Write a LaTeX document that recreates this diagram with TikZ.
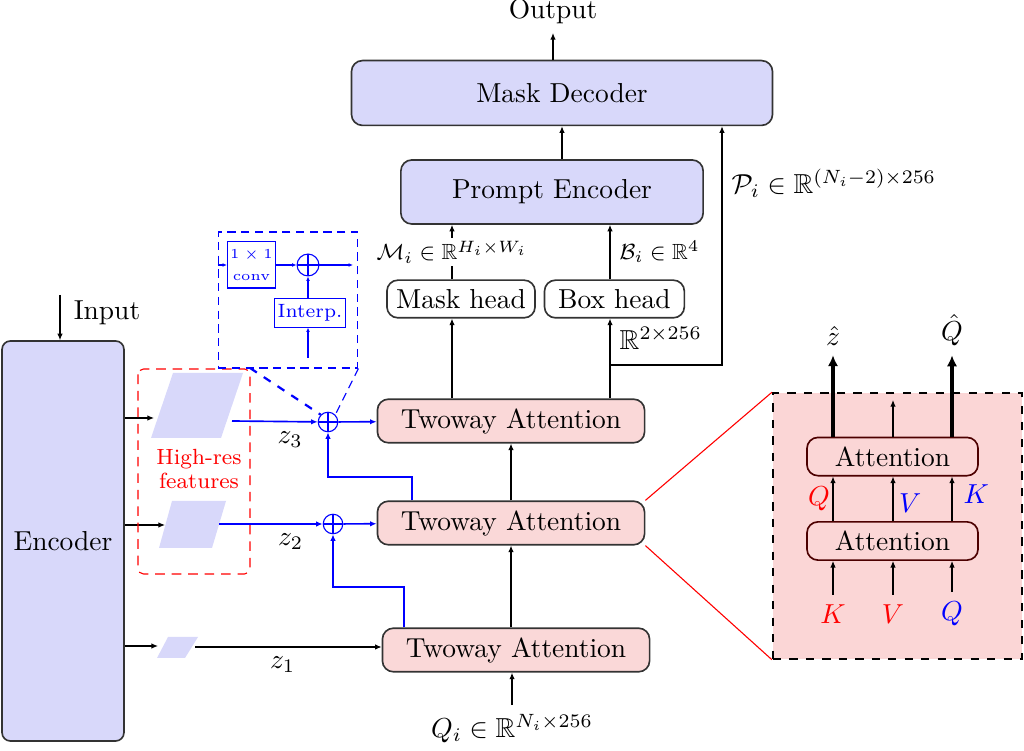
\documentclass[tikz,border=0pt]{standalone}
\usepackage{amsmath,amssymb}
\usetikzlibrary{positioning,arrows.meta}
\definecolor{lav}{RGB}{216,216,250}
\definecolor{pinkfill}{RGB}{250,216,216}
\definecolor{zoomfill}{RGB}{251,214,214}

\begin{document}
\begin{tikzpicture}[x=0.0128cm, y=-0.0128cm,
    >={Latex[length=2.4pt,width=2pt]},
    blk/.style={draw=black!80, semithick, rounded corners=4pt, fill=lav},
    twa/.style={draw=black!80, semithick, rounded corners=4pt, fill=pinkfill,
      minimum width=3.42cm, minimum height=0.47cm},
    head/.style={draw=black!80, semithick, rounded corners=4pt, minimum height=0.47cm},
    sum/.style={draw=blue, circle, minimum size=0.25cm, inner sep=0pt,
      path picture={\draw[blue] (path picture bounding box.north) -- (path picture bounding box.south)
        (path picture bounding box.west) -- (path picture bounding box.east);}},
    bl/.style={blue, semithick},
    tinyarr/.style={blue, -{Latex[length=1.6pt,width=1.4pt]}},
    bigarr/.style={line width=1.2pt, -{Latex[length=4pt,width=3.8pt]}},
  ]
  \useasboundingbox (0,0) rectangle (1024,751);

  \node[blk, minimum width=5.39cm, minimum height=0.83cm] (md) at (562,93) {Mask Decoder};
  \node (out) at (553,11) {Output};
  \node[blk, minimum width=3.87cm, minimum height=0.82cm] (pe) at (552,192) {Prompt Encoder};
  \node[head, minimum width=1.88cm] (mh) at (461,299) {Mask head};
  \node[head, minimum width=1.79cm, right=0.1cm of mh] (bh) {Box head};
  \node[twa] (ta3) at (511,421) {Twoway Attention};
  \node[twa] (ta2) at (511,523) {Twoway Attention};
  \node[twa] (ta1) at (516,650) {Twoway Attention};
  \node (q) at (512,729) {$Q_i \in \mathbb{R}^{N_i\times 256}$};
  \node[blk, rounded corners=3pt, minimum width=1.56cm, minimum height=5.12cm] (enc) at (63,541) {Encoder};
  \node (in) at (107,313) {Input};

  \coordinate (c1) at (452,0);
  \coordinate (c2) at (610,0);
  \coordinate (br) at (610,365);
  \coordinate (cr) at (722,365);
  \coordinate (inp) at (60,295);

  \draw[->] (md.north -| out) -- (out);
  \draw[->] (pe.north -| md) -- (md.south);
  \draw[->] (mh.north -| c1) -- node[fill=white, font=\footnotesize, inner sep=1pt]
    {$\mathcal{M}_i \in \mathbb{R}^{H_i\times W_i}$} (pe.south -| c1);
  \draw[->] (bh.north -| c2) -- node[right, font=\footnotesize] {$\mathcal{B}_i \in \mathbb{R}^4$} (pe.south -| c2);
  \draw[->] (ta3.north -| c1) -- (mh.south -| c1);
  \draw[->] (ta3.north -| c2) -- node[right, pos=0.75] {$\mathbb{R}^{2\times 256}$} (bh.south -| c2);
  \draw[->] (br) -- (cr) -- node[right, pos=0.76] {$\mathcal{P}_i \in \mathbb{R}^{(N_i-2)\times 256}$} (md.south -| cr);
  \draw[->] (ta2.north) -- (ta3.south);
  \draw[->] (ta1.north -| ta2) -- (ta2.south);
  \draw[->, thick] (q.north) -- (q.north |- ta1.south);
  \draw[->] (inp) -- (inp |- enc.north);

  % features
  \fill[lav] (151,438) -- (221,438) -- (243,373) -- (173,373) -- cycle;
  \fill[lav] (159,548) -- (212,548) -- (226,501) -- (172,501) -- cycle;
  \fill[lav] (157,658) -- (185,658) -- (198,637) -- (168,637) -- cycle;
  \coordinate (e3) at (154,418);
  \coordinate (e2) at (165,525);
  \coordinate (e1) at (158,646);
  \coordinate (f3) at (232,421);
  \coordinate (f2) at (219,524);
  \coordinate (f1) at (195,647);
  \draw[->] (enc.east |- e3) -- (e3);
  \draw[->] (enc.east |- e2) -- (e2);
  \draw[->] (enc.east |- e1) -- (e1);

  \draw[red, dash pattern=on 3.5pt off 2.5pt, rounded corners=2pt] (138,369) rectangle (250,574);
  \node[red, font=\footnotesize, align=center, inner sep=0pt] (hr) at (199,469) {High-res\\[-1pt]features};

  \node[sum] (s3) at (328,422) {};
  \node[sum] (s2) at (333,524) {};
  \draw[->, bl] (f3) -- node[below, pos=0.68, black] {$z_3$} (s3);
  \draw[->, bl] (f2) -- node[below, pos=0.69, black] {$z_2$} (s2);
  \draw[->] (f1) -- node[below, pos=0.47] {$z_1$} (f1 -| ta1.west);
  \draw[->, bl] (s3) -- (ta3);
  \draw[->, bl] (s2) -- (ta2);
  \coordinate (k2) at (412,477);
  \coordinate (k1) at (404,587);
  \draw[->, bl] (ta2.north -| k2) -- (k2) -| (s3.south);
  \draw[->, bl] (ta1.north -| k1) -- (k1) -| (s2.south);

  % zoomed fusion block
  \node[draw=blue, densely dashed, minimum width=1.79cm, minimum height=1.74cm] (zb) at (288,300) {};
  \node[draw=blue, text=blue, font=\tiny, align=center, inner sep=1pt,
    minimum width=0.47cm, minimum height=0.59cm] (conv) at (251.5,265) {$1\times1$\\[2pt]conv};
  \node[sum, minimum size=0.28cm] (s0) at (308,265) {};
  \node[draw=blue, text=blue, font=\scriptsize, inner sep=1pt,
    minimum width=0.84cm, minimum height=0.36cm] (ip) at (310,313) {Interp.};
  \coordinate (zl) at (250,368);
  \coordinate (so) at (353,265);
  \coordinate (si) at (308,358);
  \draw[tinyarr] (zb.west |- conv) -- (conv);
  \draw[tinyarr] (conv) -- (s0);
  \draw[tinyarr] (s0) -- (so);
  \draw[tinyarr] (ip.north -| s0) -- (s0);
  \draw[tinyarr] (si) -- (ip.south -| s0);
  \draw[blue, thick, dashed] (zl) -- (s3.north west);
  \draw[blue, densely dashed] (zb.south east) -- (s3.north east);

  % inside twoway attention
  \node[draw, dashed, line width=0.7pt, fill=zoomfill, minimum width=3.19cm, minimum height=3.40cm] (zoom) at (897.5,526) {};
  \draw[red] (ta2.north east) -- (zoom.north west);
  \draw[red] (ta2.south east) -- (zoom.south west);
  \node[head, draw=black!70!red, minimum width=2.19cm] (at1) at (892.5,541) {Attention};
  \node[head, draw=black!70!red, minimum width=2.19cm, above=0.57cm of at1] (at2) {Attention};
  \node[red] (lk) at (833,614) {$K$};
  \node[red] (lv) at (893,614) {$V$};
  \node[blue] (lq) at (952,614) {$Q$};
  \node (zh) at (833,336) {$\hat{z}$};
  \node (qh) at (952,330) {$\hat{Q}$};
  \coordinate (tv) at (893,400);
  \draw[->] (lk) -- (lk |- at1.south);
  \draw[->] (lv) -- (lv |- at1.south);
  \draw[->] (lq) -- (lq |- at1.south);
  \draw[->] (at1.north -| lk) -- node[left, red, inner sep=1pt] {$Q$} (at2.south -| lk);
  \draw[->] (at1.north -| lv) -- node[right, blue, inner sep=2pt, pos=0.4] {$V$} (at2.south -| lv);
  \draw[->] (at1.north -| lq) -- node[right, blue, inner sep=4pt, pos=0.6] {$K$} (at2.south -| lq);
  \draw[bigarr] (at2.north -| zh) -- (zh);
  \draw[->] (at2.north -| tv) -- (tv);
  \draw[bigarr] (at2.north -| qh) -- (qh);
\end{tikzpicture}
\end{document}
